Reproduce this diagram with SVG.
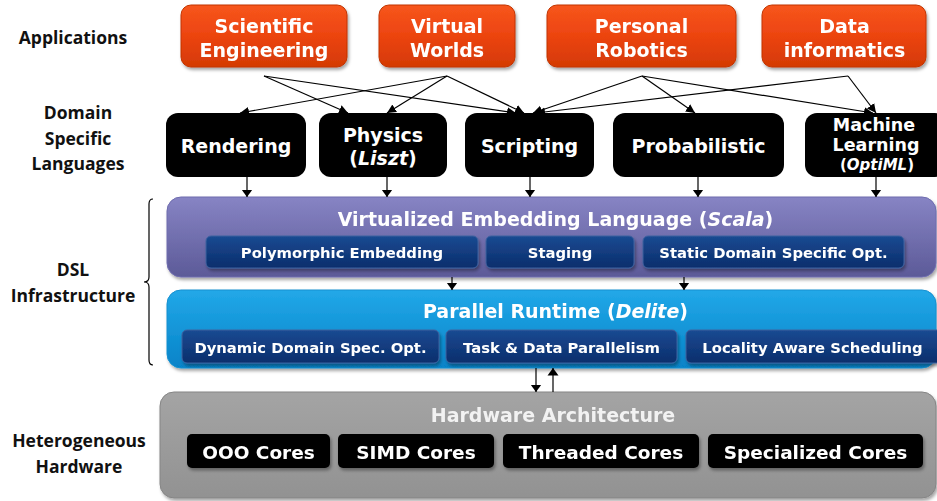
<svg xmlns="http://www.w3.org/2000/svg" width="937" height="501" viewBox="0 0 937 501">
<defs>
<linearGradient id="gOr" x1="0" y1="0" x2="0" y2="1"><stop offset="0" stop-color="#f7561c"/><stop offset="0.5" stop-color="#ec4410"/><stop offset="1" stop-color="#d43a04"/></linearGradient>
<linearGradient id="gPu" x1="0" y1="0" x2="0" y2="1"><stop offset="0" stop-color="#8784c4"/><stop offset="1" stop-color="#5c5a98"/></linearGradient>
<linearGradient id="gBl" x1="0" y1="0" x2="0" y2="1"><stop offset="0" stop-color="#22a8e8"/><stop offset="1" stop-color="#0683c8"/></linearGradient>
<linearGradient id="gSub" x1="0" y1="0" x2="0" y2="1"><stop offset="0" stop-color="#1a4a92"/><stop offset="1" stop-color="#0b2e6c"/></linearGradient>
<linearGradient id="gGr" x1="0" y1="0" x2="0" y2="1"><stop offset="0" stop-color="#a4a4a4"/><stop offset="1" stop-color="#929292"/></linearGradient>
<filter id="sh" x="-5%" y="-10%" width="110%" height="130%"><feDropShadow dx="1.5" dy="2.5" stdDeviation="1.8" flood-color="#000" flood-opacity="0.35"/></filter>
<marker id="ah" markerUnits="userSpaceOnUse" markerWidth="10" markerHeight="10" refX="9" refY="5" orient="auto"><path d="M0,0.5 L9,5 L0,9.5 z" fill="#000"/></marker>
<marker id="av" markerUnits="userSpaceOnUse" markerWidth="8" markerHeight="12" refX="7.5" refY="6" orient="auto"><path d="M0,0.5 L7.5,6 L0,11.5 z" fill="#000"/></marker>
<style>
.lab{font-family:"Open Sans","Lato",sans-serif;font-weight:bold;font-size:17.5px;fill:#111;text-anchor:middle}
.bt{font-family:"DejaVu Sans","Verdana",sans-serif;font-weight:bold;fill:#fff;text-anchor:middle}
.t18{font-size:19px}
.t14{font-size:14.8px}
.t17{font-size:18.5px}
.orange{fill:url(#gOr);stroke:#c13400;stroke-width:1}
.dsl{fill:#000}
.sub{fill:url(#gSub);stroke:#3e62a0;stroke-width:1}
.core{fill:#000}
.ln{stroke:#000;stroke-width:1.2;fill:none}
</style>
</defs>

<g id="labels">
<text class="lab" x="73" y="44">Applications</text>
<text class="lab" x="78" y="119">Domain</text>
<text class="lab" x="78" y="145">Specific</text>
<text class="lab" x="78" y="170">Languages</text>
<text class="lab" x="73" y="276">DSL</text>
<text class="lab" x="73" y="302">Infrastructure</text>
<text class="lab" x="79" y="447">Heterogeneous</text>
<text class="lab" x="79" y="473">Hardware</text>
<path d="M153,199 Q149,199 149,204 L149,277 Q149,282 144,282 Q149,282 149,287 L149,360 Q149,365 153,365" fill="none" stroke="#000" stroke-width="1.2"/>
</g>

<g id="app-scientific" filter="url(#sh)">
<rect class="orange" x="181" y="5" width="166" height="62" rx="10"/>
<text class="bt t18" x="264" y="33">Scientific</text>
<text class="bt t18" x="264" y="57">Engineering</text>
</g>
<g id="app-virtual" filter="url(#sh)">
<rect class="orange" x="379" y="5" width="136" height="62" rx="10"/>
<text class="bt t18" x="447" y="33">Virtual</text>
<text class="bt t18" x="447" y="57">Worlds</text>
</g>
<g id="app-robotics" filter="url(#sh)">
<rect class="orange" x="547" y="5" width="189" height="62" rx="10"/>
<text class="bt t18" x="641.5" y="33">Personal</text>
<text class="bt t18" x="641.5" y="57">Robotics</text>
</g>
<g id="app-data" filter="url(#sh)">
<rect class="orange" x="762" y="5" width="164" height="62" rx="10"/>
<text class="bt t18" x="844.5" y="33">Data</text>
<text class="bt t18" x="844.5" y="57">informatics</text>
</g>

<g id="dsl-rendering">
<rect class="dsl" x="166" y="113" width="140" height="64" rx="12"/>
<text class="bt t18" x="236" y="153">Rendering</text>
</g>
<g id="dsl-physics">
<rect class="dsl" x="319" y="113" width="128" height="64" rx="12"/>
<text class="bt t18" x="383" y="142">Physics</text>
<text class="bt t18" x="383" y="165">(<tspan font-style="italic">Liszt</tspan>)</text>
</g>
<g id="dsl-scripting">
<rect class="dsl" x="465" y="113" width="129" height="64" rx="12"/>
<text class="bt t18" x="529.5" y="153">Scripting</text>
</g>
<g id="dsl-probabilistic">
<rect class="dsl" x="613" y="113" width="171" height="64" rx="12"/>
<text class="bt t18" x="698.5" y="153">Probabilistic</text>
</g>
<g id="dsl-ml">
<rect class="dsl" x="805" y="113" width="142" height="64" rx="12"/>
<text class="bt" x="874" y="131" font-size="17.5">Machine</text>
<text class="bt" x="876" y="151" font-size="17.5">Learning</text>
<text class="bt" x="877" y="170" font-size="15">(<tspan font-style="italic">OptiML</tspan>)</text>
</g>

<g id="vel" filter="url(#sh)">
<rect x="167" y="197" width="769" height="80" rx="14" fill="url(#gPu)" stroke="#6e6cae" stroke-width="1"/>
<text class="bt t18" x="555.5" y="226">Virtualized Embedding Language (<tspan font-style="italic">Scala</tspan>)</text>
</g>
<g id="vel-polymorphic" filter="url(#sh)">
<rect class="sub" x="206" y="236" width="272" height="32" rx="5"/>
<text class="bt t14" x="342" y="258">Polymorphic Embedding</text>
</g>
<g id="vel-staging" filter="url(#sh)">
<rect class="sub" x="486" y="236" width="148" height="32" rx="5"/>
<text class="bt t14" x="560" y="258">Staging</text>
</g>
<g id="vel-static" filter="url(#sh)">
<rect class="sub" x="643" y="236" width="261" height="32" rx="5"/>
<text class="bt t14" x="773.5" y="258">Static Domain Specific Opt.</text>
</g>

<g id="runtime" filter="url(#sh)">
<rect x="167" y="290" width="769" height="78" rx="14" fill="url(#gBl)" stroke="#1590d0" stroke-width="1"/>
<text class="bt t18" x="555.5" y="318">Parallel Runtime (<tspan font-style="italic">Delite</tspan>)</text>
</g>
<g id="rt-dynamic" filter="url(#sh)">
<rect class="sub" x="182" y="330" width="257" height="33" rx="5"/>
<text class="bt t14" x="310.5" y="353">Dynamic Domain Spec. Opt.</text>
</g>
<g id="rt-task" filter="url(#sh)">
<rect class="sub" x="446" y="330" width="231" height="33" rx="5"/>
<text class="bt t14" x="561.5" y="353">Task &amp; Data Parallelism</text>
</g>
<g id="rt-locality" filter="url(#sh)">
<rect class="sub" x="686" y="330" width="256" height="33" rx="5"/>
<text class="bt t14" x="812.5" y="353">Locality Aware Scheduling</text>
</g>

<g id="hardware" filter="url(#sh)">
<rect x="160" y="392" width="776" height="106" rx="14" fill="url(#gGr)" stroke="#858585" stroke-width="1"/>
<text class="bt t18" x="553" y="422" style="fill:#f2f2f2">Hardware Architecture</text>
</g>
<g id="hw-ooo" filter="url(#sh)">
<rect class="core" x="187" y="434" width="143" height="34" rx="5"/>
<text class="bt t17" x="258.5" y="459">OOO Cores</text>
</g>
<g id="hw-simd" filter="url(#sh)">
<rect class="core" x="338" y="434" width="156" height="34" rx="5"/>
<text class="bt t17" x="416" y="459">SIMD Cores</text>
</g>
<g id="hw-threaded" filter="url(#sh)">
<rect class="core" x="503" y="434" width="196" height="34" rx="5"/>
<text class="bt t17" x="601" y="459">Threaded Cores</text>
</g>
<g id="hw-specialized" filter="url(#sh)">
<rect class="core" x="708" y="434" width="215" height="34" rx="5"/>
<text class="bt t17" x="815.5" y="459">Specialized Cores</text>
</g>

<g id="connectors">
<line class="ln" x1="264" y1="76" x2="348" y2="113" marker-end="url(#ah)"/>
<line class="ln" x1="264" y1="76" x2="516" y2="113" marker-end="url(#ah)"/>
<line class="ln" x1="447" y1="76" x2="240" y2="113" marker-end="url(#ah)"/>
<line class="ln" x1="447" y1="76" x2="387" y2="113" marker-end="url(#ah)"/>
<line class="ln" x1="447" y1="76" x2="524" y2="113" marker-end="url(#ah)"/>
<line class="ln" x1="642" y1="76" x2="533" y2="113" marker-end="url(#ah)"/>
<line class="ln" x1="642" y1="76" x2="695" y2="113" marker-end="url(#ah)"/>
<line class="ln" x1="642" y1="76" x2="873" y2="113" marker-end="url(#ah)"/>
<line class="ln" x1="848" y1="76" x2="536" y2="113" marker-end="url(#ah)"/>
<line class="ln" x1="848" y1="76" x2="876" y2="113" marker-end="url(#ah)"/>
<line class="ln" x1="247" y1="177" x2="247" y2="197" marker-end="url(#av)"/>
<line class="ln" x1="387" y1="177" x2="387" y2="197" marker-end="url(#av)"/>
<line class="ln" x1="530" y1="177" x2="530" y2="197" marker-end="url(#av)"/>
<line class="ln" x1="698" y1="177" x2="698" y2="197" marker-end="url(#av)"/>
<line class="ln" x1="876" y1="177" x2="876" y2="197" marker-end="url(#av)"/>
<line class="ln" x1="452" y1="277" x2="452" y2="290" marker-end="url(#av)"/>
<line class="ln" x1="684" y1="277" x2="684" y2="290" marker-end="url(#av)"/>
<line class="ln" x1="536" y1="368" x2="536" y2="392" marker-end="url(#av)"/>
<line class="ln" x1="553" y1="392" x2="553" y2="368" marker-end="url(#av)"/>
</g>
</svg>
